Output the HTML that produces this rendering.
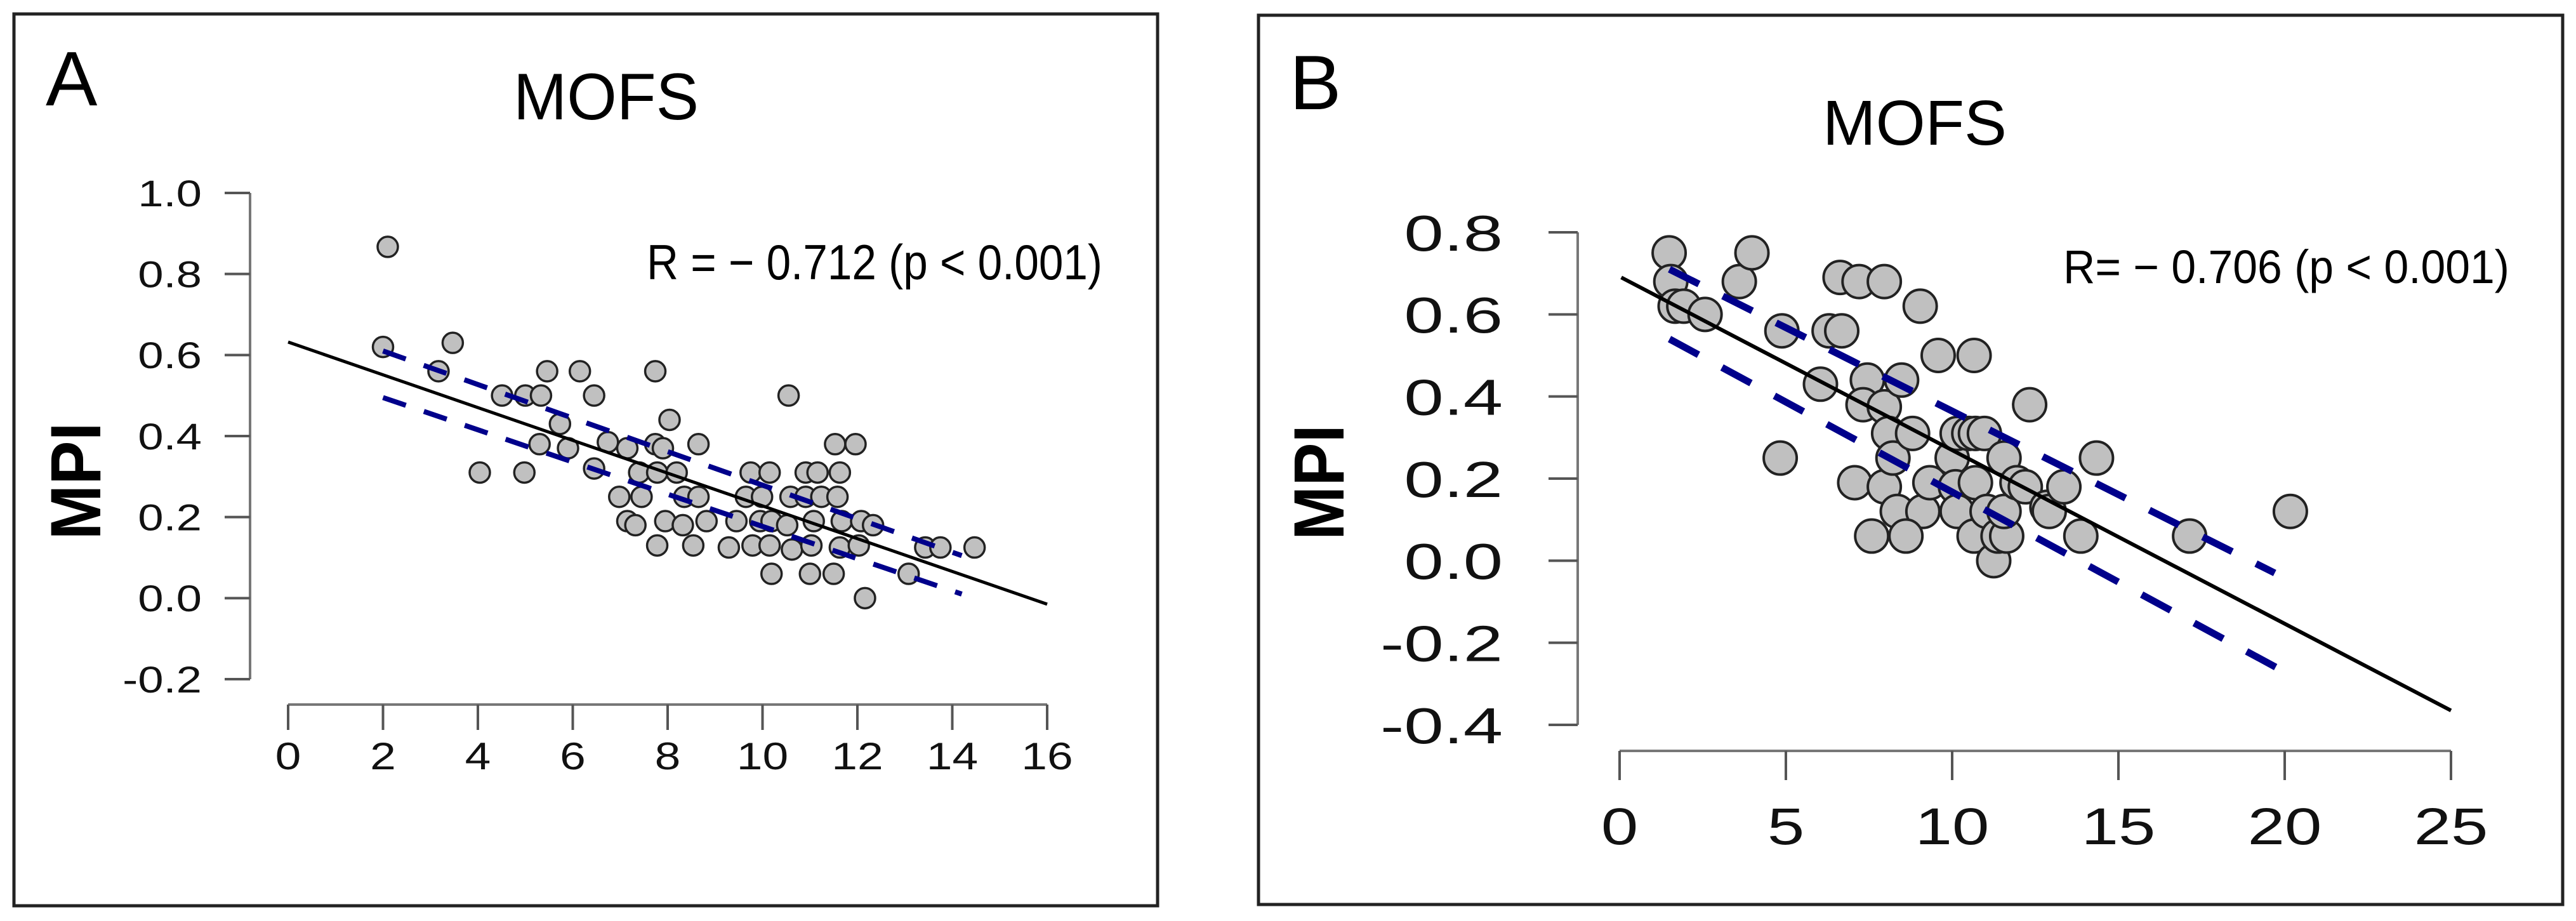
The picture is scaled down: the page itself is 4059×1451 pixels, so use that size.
<!DOCTYPE html>
<html><head><meta charset="utf-8"><style>
html,body{margin:0;padding:0;background:#fff;}
svg{display:block;}
text{font-family:"Liberation Sans",sans-serif;}
</style></head><body>
<svg id="fig" width="4059" height="1451" viewBox="0 0 4059 1451" xmlns="http://www.w3.org/2000/svg">
<rect x="0" y="0" width="4059" height="1451" fill="#fff"/>
<g id="panelA">
<rect x="22" y="22" width="1802" height="1405" fill="none" stroke="#222" stroke-width="5"/>
<text x="72" y="166" font-size="122">A</text>
<text x="955" y="188" font-size="104" text-anchor="middle" textLength="292" lengthAdjust="spacingAndGlyphs">MOFS</text>
<text x="1019" y="440" font-size="78" textLength="718" lengthAdjust="spacingAndGlyphs">R = − 0.712 (p &lt; 0.001)</text>
<text transform="translate(158,758) rotate(-90)" font-size="112" font-weight="bold" text-anchor="middle" textLength="185" lengthAdjust="spacingAndGlyphs">MPI</text>
</g>
<g id="panelB">
<rect x="1983" y="24" width="2055" height="1401" fill="none" stroke="#222" stroke-width="5"/>
<text x="2032" y="172" font-size="122">B</text>
<text x="3017" y="228" font-size="100" text-anchor="middle" textLength="290" lengthAdjust="spacingAndGlyphs">MOFS</text>
<text x="3251" y="446" font-size="74" textLength="703" lengthAdjust="spacingAndGlyphs">R= − 0.706 (p &lt; 0.001)</text>
<text transform="translate(2117,760) rotate(-90)" font-size="112" font-weight="bold" text-anchor="middle" textLength="182" lengthAdjust="spacingAndGlyphs">MPI</text>
</g>
</svg>
<script>
// Panel A data
const aXTicks = [0,2,4,6,8,10,12,14,16];
const aYTicks = [1.0,0.8,0.6,0.4,0.2,0.0,-0.2];
const aX = [2.1,2.0,3.17,3.47,4.04,4.51,4.98,5.0,5.33,5.46,5.3,5.73,5.9,6.15,6.45,6.45,6.74,7.15,6.98,7.45,7.15,7.32,7.4,7.74,7.74,7.9,7.78,8.04,8.19,7.78,7.95,8.32,8.35,8.65,8.54,8.65,8.82,9.29,9.45,9.75,10.15,9.65,9.99,9.79,9.95,10.19,10.15,10.19,10.55,10.59,10.52,10.62,10.91,11.16,10.91,11.24,11.58,11.63,11.08,11.03,11.0,11.5,11.53,11.96,11.67,11.63,12.03,12.08,12.33,12.16,13.08,13.43,13.75,14.47];
const aY = [0.867,0.62,0.56,0.63,0.31,0.50,0.31,0.5,0.5,0.56,0.38,0.43,0.37,0.56,0.5,0.32,0.385,0.37,0.25,0.25,0.19,0.18,0.31,0.56,0.38,0.37,0.31,0.44,0.31,0.13,0.19,0.18,0.25,0.38,0.13,0.25,0.19,0.125,0.19,0.31,0.31,0.25,0.25,0.13,0.19,0.19,0.13,0.06,0.50,0.25,0.18,0.12,0.31,0.31,0.25,0.25,0.25,0.31,0.19,0.13,0.06,0.06,0.38,0.38,0.19,0.125,0.13,0.19,0.18,0.0,0.06,0.125,0.125,0.125];
const aFit = [[0,0.632],[16,-0.015]];
const aUpper = [[2,0.61],[14.2,0.105]];
const aLower = [[2,0.495],[14.2,0.01]];
// Panel B data
const bXTicks = [0,5,10,15,20,25];
const bYTicks = [0.8,0.6,0.4,0.2,0.0,-0.2,-0.4];
const bX = [1.49,1.54,1.67,1.93,2.57,3.6,3.98,4.88,4.83,6.04,6.3,6.68,6.63,7.2,7.96,7.07,7.45,7.32,7.96,8.09,7.58,7.96,8.22,8.48,8.81,9.04,8.35,9.12,8.61,9.33,9.58,10.0,10.1,10.15,10.5,10.7,10.97,10.66,10.15,10.66,10.7,11.05,11.25,11.38,11.64,11.56,11.56,11.95,12.2,12.33,12.85,12.92,13.36,13.87,14.34,17.14,20.17];
const bY = [0.75,0.68,0.62,0.62,0.60,0.68,0.75,0.56,0.25,0.43,0.56,0.56,0.69,0.68,0.68,0.19,0.44,0.38,0.375,0.31,0.06,0.18,0.25,0.44,0.31,0.62,0.12,0.12,0.06,0.19,0.50,0.25,0.18,0.31,0.31,0.31,0.31,0.50,0.12,0.06,0.19,0.12,0.0,0.06,0.06,0.12,0.25,0.19,0.18,0.38,0.13,0.12,0.18,0.06,0.25,0.06,0.12];
const bFit = [[0.05,0.69],[25,-0.365]];
const bUpper = [[1.5,0.71],[19.7,-0.03]];
const bLower = [[1.5,0.54],[20.2,-0.28]];

const NS = "http://www.w3.org/2000/svg";
function mk(tag, attrs, parent){
  const e = document.createElementNS(NS, tag);
  for (const k in attrs) e.setAttribute(k, attrs[k]);
  parent.appendChild(e);
  return e;
}
function linScale(d0,d1,r0,r1){ return v => r0 + (v-d0)/(d1-d0)*(r1-r0); }

function drawPanel(cfg){
  const g = document.getElementById(cfg.id);
  const sx = linScale(cfg.xd[0], cfg.xd[1], cfg.xr[0], cfg.xr[1]);
  const sy = linScale(cfg.yd[0], cfg.yd[1], cfg.yr[0], cfg.yr[1]);
  const yTop = sy(cfg.yTicks[0]), yBot = sy(cfg.yTicks[cfg.yTicks.length-1]);
  const yAxis = mk('line',{x1:cfg.yAxisX,y1:yTop,x2:cfg.yAxisX,y2:yBot,stroke:'#777','stroke-width':4},g);
  
  
  cfg.yTicks.forEach(t=>{
    const y = sy(t);
    const tk = mk('line',{x1:cfg.yAxisX-cfg.tickLen,y1:y,x2:cfg.yAxisX,y2:y,stroke:'#555','stroke-width':4},g);
    
    
    const tx = mk('text',{x:0,y:0,transform:'translate('+cfg.yLabelX+','+(y+cfg.yFont*0.36)+') scale('+cfg.stretch+',1)','font-size':cfg.yFont,'text-anchor':'end',fill:'#111'},g);
    tx.textContent = t.toFixed(1);
    
    
  });
  const xL = sx(cfg.xTicks[0]), xR = sx(cfg.xTicks[cfg.xTicks.length-1]);
  const xAxis = mk('line',{x1:xL,y1:cfg.xAxisY,x2:xR,y2:cfg.xAxisY,stroke:'#777','stroke-width':4},g);
  
  
  cfg.xTicks.forEach(t=>{
    const x = sx(t);
    const tk = mk('line',{x1:x,y1:cfg.xAxisY,x2:x,y2:cfg.xAxisY+cfg.tickLen,stroke:'#555','stroke-width':4},g);
    
    
    const tx = mk('text',{x:0,y:0,transform:'translate('+x+','+cfg.xLabelY+') scale('+cfg.xStretch+',1)','font-size':cfg.xFont,'text-anchor':'middle',fill:'#111'},g);
    tx.textContent = String(t);
    
    
  });
  cfg.px.forEach((v,i)=>{
    const c = mk('circle',{cx:sx(v),cy:sy(cfg.py[i]),r:cfg.r,fill:'#c0c0c0',stroke:'#222','stroke-width':cfg.r>20?4:3.5},g);
    
    
  });
  [cfg.upper,cfg.lower].forEach((b,j)=>{
    const l = mk('line',{x1:sx(b[0][0]),y1:sy(b[0][1]),x2:sx(b[1][0]),y2:sy(b[1][1]),stroke:'#00008b','stroke-width':cfg.dashW,'stroke-dasharray':cfg.dash},g);
    
    
  });
  const f = mk('line',{x1:sx(cfg.fit[0][0]),y1:sy(cfg.fit[0][1]),x2:sx(cfg.fit[1][0]),y2:sy(cfg.fit[1][1]),stroke:'#000','stroke-width':cfg.fitW},g);
  
  
}

drawPanel({id:'panelA',pfx:'panel-a',xd:[0,16],xr:[454,1650],yd:[1.0,-0.2],yr:[304,1070],
  xTicks:aXTicks,yTicks:aYTicks,yAxisX:394,xAxisY:1110,tickLen:40,yLabelX:318,yFont:58,stretch:1.25,xLabelY:1212,xFont:60,xStretch:1.22,
  px:aX,py:aY,r:16,fit:aFit,upper:aUpper,lower:aLower,dash:'38 30',dashW:8,fitW:5});
drawPanel({id:'panelB',pfx:'panel-b',xd:[0,25],xr:[2552,3862],yd:[0.8,-0.4],yr:[366,1142],
  xTicks:bXTicks,yTicks:bYTicks,yAxisX:2486,xAxisY:1183,tickLen:46,yLabelX:2368,yFont:80,stretch:1.4,xLabelY:1330,xFont:82,xStretch:1.28,
  px:bX,py:bY,r:26,fit:bFit,upper:bUpper,lower:bLower,dash:'52 42',dashW:11,fitW:6});
</script>
</body></html>
